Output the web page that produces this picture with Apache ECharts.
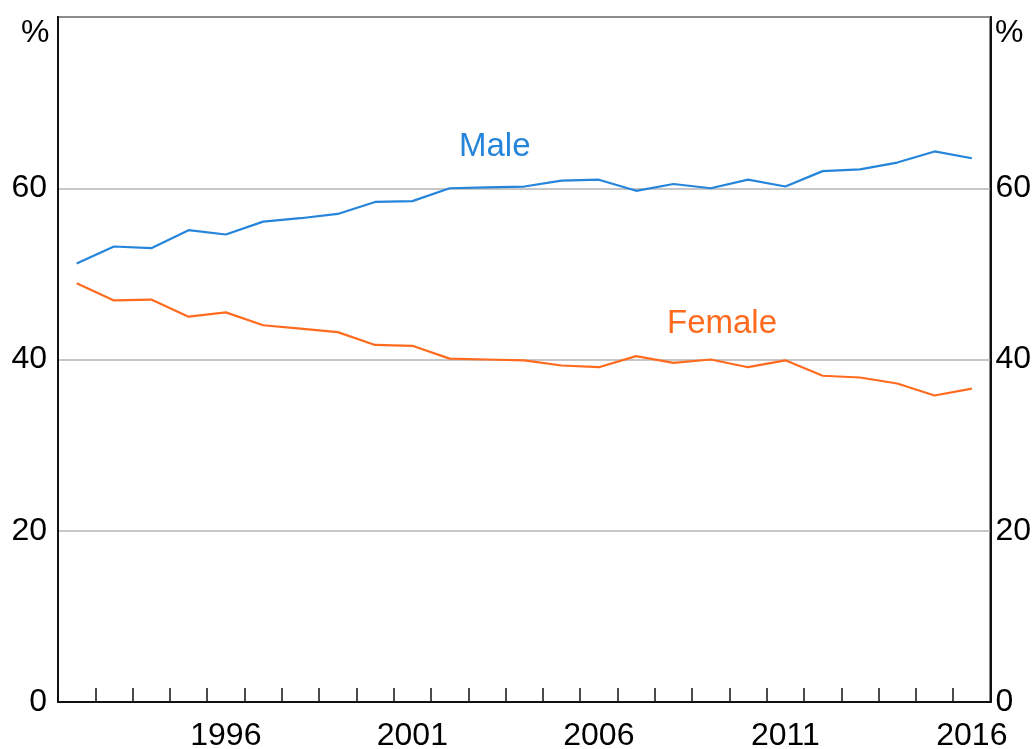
<!DOCTYPE html>
<html>
<head>
<meta charset="utf-8">
<script src="https://cdn.jsdelivr.net/npm/echarts@6/dist/echarts.min.js"></script>
<style>
  html, body { margin: 0; padding: 0; background: #fff; }
  #chart { width: 1034px; height: 749px; }
</style>
</head>
<body>
<div id="chart"></div>
<script>
var years = ['1992','1993','1994','1995','1996','1997','1998','1999','2000','2001','2002','2003','2004',
             '2005','2006','2007','2008','2009','2010','2011','2012','2013','2014','2015','2016'];
var male = [51.2, 53.2, 53.0, 55.1, 54.6, 56.1, 56.5, 57.0, 58.4, 58.5, 60.0, 60.1, 60.2,
            60.9, 61.0, 59.7, 60.5, 60.0, 61.0, 60.2, 62.0, 62.2, 63.0, 64.3, 63.5];
var female = [48.9, 46.9, 47.0, 45.0, 45.5, 44.0, 43.6, 43.2, 41.7, 41.6, 40.1, 40.0, 39.9,
              39.3, 39.1, 40.4, 39.6, 40.0, 39.1, 39.9, 38.1, 37.9, 37.2, 35.8, 36.6];
var yTicks = [0, 20, 40, 60, 80];
var labelYears = ['1996', '2001', '2006', '2011', '2016'];

var maleColor = '#2585da';
var femaleColor = '#ff6b1e';
var font = 'Liberation Sans, Arial, sans-serif';

var myChart = echarts.init(document.getElementById('chart'));

function yAxisDef(pos, margin) {
    return {
        type: 'value',
        position: pos,
        min: yTicks[0],
        max: yTicks[yTicks.length - 1],
        interval: 20,
        axisLine: { show: true, lineStyle: { color: '#111', width: 2 } },
        axisTick: { show: false },
        splitLine: { show: pos === 'left', lineStyle: { color: '#b4b4b4', width: 1.5 } },
        axisLabel: {
            margin: margin,
            fontSize: 32,
            fontFamily: font,
            color: '#000',
            formatter: function (v) { return v === 80 ? '' : v; }
        }
    };
}

var option = {
    animation: false,
    backgroundColor: '#fff',
    grid: {
        left: 58, right: 43.5, top: 17, bottom: 47,
        outerBoundsMode: 'none',
        containLabel: false,
        show: true, borderColor: '#111', borderWidth: 2
    },
    xAxis: {
        type: 'category',
        data: years,
        boundaryGap: true,
        axisLine: { show: true, lineStyle: { color: '#111', width: 2 } },
        axisTick: { show: true, inside: true, length: 14, interval: 0, lineStyle: { color: '#111', width: 1.5 } },
        axisLabel: {
            interval: function (i, v) { return labelYears.indexOf(v) >= 0; },
            fontSize: 32,
            fontFamily: font,
            color: '#000',
            margin: 18
        },
        splitLine: { show: false }
    },
    yAxis: [yAxisDef('left', 11), yAxisDef('right', 5)],
    series: [
        {
            name: 'Male', type: 'line', data: male, symbol: 'none',
            lineStyle: { color: maleColor, width: 2.2 }
        },
        {
            name: 'Female', type: 'line', data: female, symbol: 'none',
            lineStyle: { color: femaleColor, width: 2.2 }
        }
    ],
    graphic: [
        { type: 'text', left: 21, top: 17, style: { text: '%', fontSize: 32, fontFamily: font, fill: '#000' } },
        { type: 'text', left: 995, top: 17, style: { text: '%', fontSize: 32, fontFamily: font, fill: '#000' } },
        { type: 'text', left: 459, top: 130, style: { text: 'Male', fontSize: 33, fontFamily: font, fill: maleColor } },
        { type: 'text', left: 667, top: 307, style: { text: 'Female', fontSize: 33, fontFamily: font, fill: femaleColor } }
    ]
};

myChart.setOption(option);
window.onresize = myChart.resize;
</script>
</body>
</html>
